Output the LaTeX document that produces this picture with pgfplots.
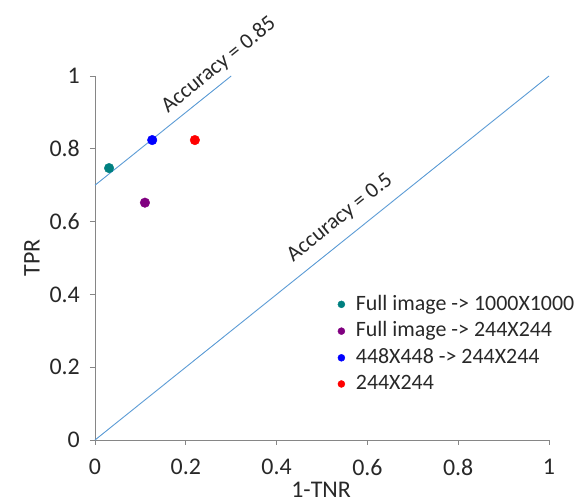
\documentclass[border=0pt]{standalone}
\usepackage{pgfplots}
\pgfplotsset{compat=1.18}
\usepackage{fontspec}
\setmainfont{Carlito}
\definecolor{accline}{RGB}{91,155,213}
\definecolor{axgray}{RGB}{134,134,134}
\definecolor{txt}{RGB}{40,40,40}
\definecolor{ptteal}{RGB}{0,128,128}
\definecolor{ptpurple}{RGB}{128,0,128}
\definecolor{ptblue}{RGB}{0,0,255}
\definecolor{ptred}{RGB}{255,0,0}
\begin{document}
\fontsize{24}{28}\selectfont
\begin{tikzpicture}
\path[use as bounding box] (-95bp,-62bp) rectangle (485bp,440bp);
\begin{axis}[
    at={(0,0)}, anchor=south west,
    scale only axis,
    width=454bp, height=364bp,
    xmin=0, xmax=1, ymin=0, ymax=1,
    axis lines=left,
    axis line style={draw=axgray, line width=0.9bp, -},
    xtick={0,0.2,0.4,0.6,0.8,1},
    ytick={0,0.2,0.4,0.6,0.8,1},
    tick align=outside,
    major tick length=5bp,
    tick style={draw=axgray, line width=0.9bp},
    tick label style={font=\fontsize{24}{28}\selectfont, text=txt},
    /pgf/number format/assume math mode=true,
    xticklabel style={yshift=-6bp},
    yticklabel style={xshift=-2bp},
    xlabel={1-TNR}, ylabel={TPR},
    label style={font=\fontsize{24}{28}\selectfont, text=txt},
    xlabel style={at={(axis description cs:0.498,-0.137)}, anchor=center},
    ylabel style={at={(axis description cs:-0.139,0.5)}, anchor=center},
    clip=false,
    legend style={at={(axis cs:0.528,0.41)}, anchor=north west, draw=none, fill=none,
        font=\fontsize{22}{26}\selectfont, text=txt, row sep=4bp,
        /tikz/every odd column/.append style={column sep=9bp}},
    legend cell align=left,
    legend image code/.code={\draw[#1, mark size=3.5bp] plot coordinates {(0bp,0bp)};},
]

% accuracy iso-lines
\addplot[accline, line width=0.9bp, forget plot] coordinates {(0,0) (1,1)};
\addplot[accline, line width=0.9bp, forget plot] coordinates {(0,0.7) (0.3,1)};

% results
\addplot[only marks, mark=*, mark size=4.8bp, color=ptteal] coordinates {(0.031,0.747)};
\addplot[only marks, mark=*, mark size=4.8bp, color=ptpurple] coordinates {(0.110,0.652)};
\addplot[only marks, mark=*, mark size=4.8bp, color=ptblue] coordinates {(0.126,0.824)};
\addplot[only marks, mark=*, mark size=4.8bp, color=ptred] coordinates {(0.220,0.824)};

\legend{Full image -> 1000X1000, Full image -> 244X244, 448X448 -> 244X244, 244X244}

\node[rotate=38.7, anchor=center, text=txt, font=\fontsize{22}{26}\selectfont] at (axis cs:0.540,0.610) {Accuracy = 0.5};
\node[rotate=38.7, anchor=center, text=txt, font=\fontsize{22}{26}\selectfont] at (axis cs:0.273,1.030) {Accuracy = 0.85};
\end{axis}
\end{tikzpicture}
\end{document}
